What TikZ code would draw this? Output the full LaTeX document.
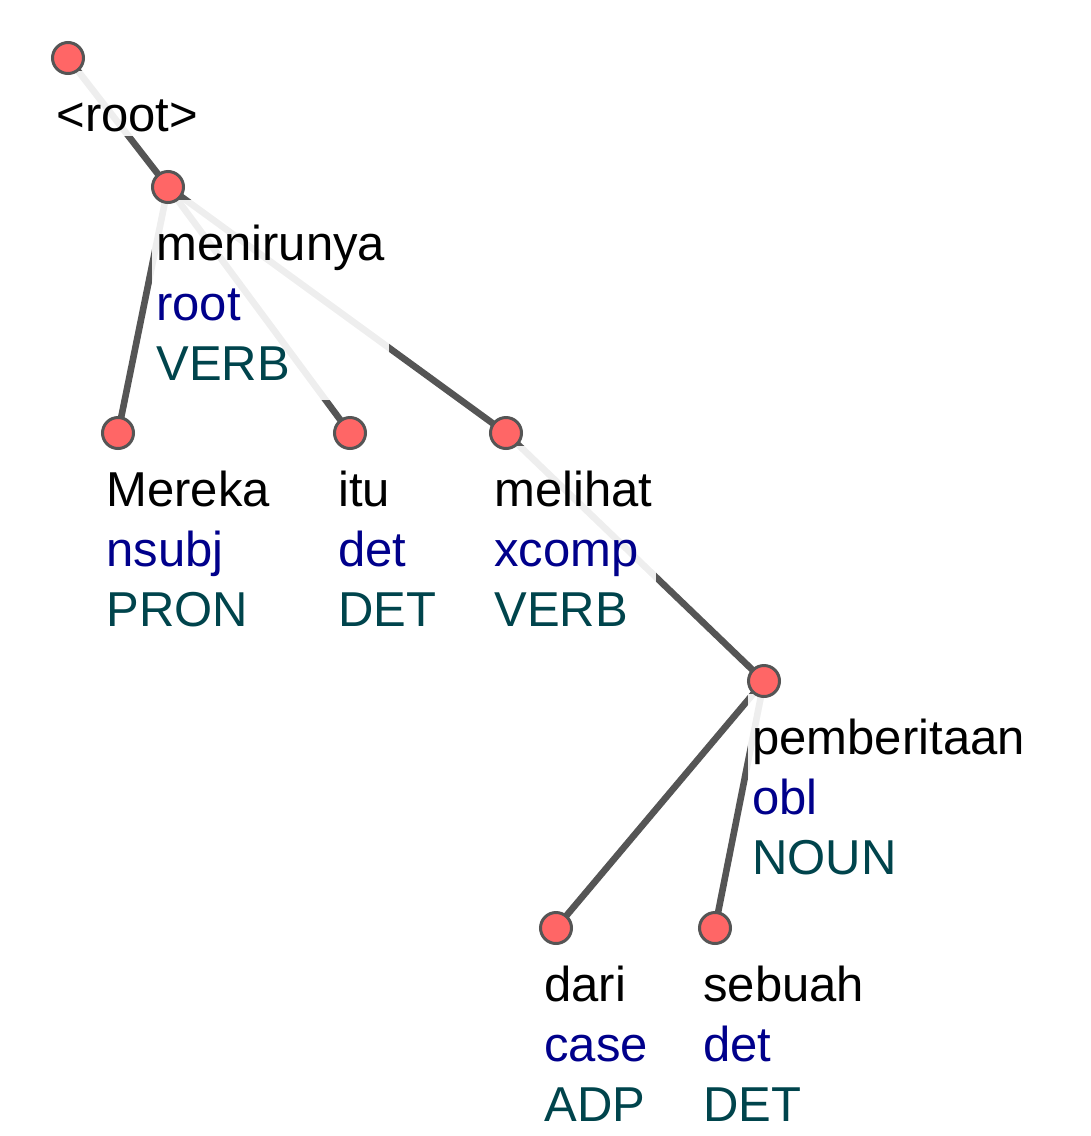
\documentclass[tikz,border=0pt]{standalone}
\usepackage{fontspec}
\setmainfont{Liberation Sans}
\usetikzlibrary{positioning}

\definecolor{dotred}{RGB}{255,102,102}
\definecolor{edgegray}{RGB}{85,85,85}
\definecolor{relblue}{RGB}{0,0,139}
\definecolor{posteal}{RGB}{0,68,76}

\tikzset{
    tok/.style={circle, draw=edgegray, fill=dotred, line width=1.5pt,
        minimum size=15.5pt, inner sep=0pt},
    dep/.style={edgegray, line width=3.3pt},
    lab/.style={fill=white, fill opacity=0.9, text opacity=1, align=left,
        inner xsep=2pt, inner ysep=2pt, font=\fontsize{24.5}{30}\selectfont}
}
\newcommand{\toklab}[3]{\rule{0pt}{28pt}#1\\\textcolor{relblue}{#2}\\\textcolor{posteal}{#3}\rule[-8pt]{0pt}{8pt}}

\begin{document}
\begin{tikzpicture}[x=0.5pt, y=-0.5pt]
    \useasboundingbox (0,0) rectangle (1091,1136);
    % token positions
    \coordinate (root) at (68,58);
    \coordinate (menirunya) at (168,187);
    \coordinate (mereka) at (118,433);
    \coordinate (itu) at (350,433);
    \coordinate (melihat) at (506,433);
    \coordinate (pemberitaan) at (764,681);
    \coordinate (dari) at (556,928);
    \coordinate (sebuah) at (715,928);
    % arcs
    \draw[dep] (root) -- (menirunya);
    \draw[dep] (menirunya) -- (mereka);
    \draw[dep] (menirunya) -- (itu);
    \draw[dep] (menirunya) -- (melihat);
    \draw[dep] (melihat) -- (pemberitaan);
    \draw[dep] (pemberitaan) -- (dari);
    \draw[dep] (pemberitaan) -- (sebuah);
    % labels
    \node[lab, below right=6.5pt and -8pt of root] (root-lab) {\rule{0pt}{28pt}<root>};
    \node[lab, below right=6.5pt and -8pt of menirunya] (menirunya-lab) {\toklab{menirunya}{root}{VERB}};
    \node[lab, below right=6.5pt and -8pt of mereka] (mereka-lab) {\toklab{Mereka}{nsubj}{PRON}};
    \node[lab, below right=6.5pt and -8pt of itu] (itu-lab) {\toklab{itu}{det}{DET}};
    \node[lab, below right=6.5pt and -8pt of melihat] (melihat-lab) {\toklab{melihat}{xcomp}{VERB}};
    \node[lab, below right=6.5pt and -8pt of pemberitaan] (pemberitaan-lab) {\toklab{pemberitaan}{obl}{NOUN}};
    \node[lab, below right=6.5pt and -8pt of dari] (dari-lab) {\toklab{dari}{case}{ADP}};
    \node[lab, below right=6.5pt and -8pt of sebuah] (sebuah-lab) {\toklab{sebuah}{det}{DET}};
    % dots on top
    \foreach \t in {root,menirunya,mereka,itu,melihat,pemberitaan,dari,sebuah}
        \node[tok] (\t-dot) at (\t) {};
\end{tikzpicture}
\end{document}
